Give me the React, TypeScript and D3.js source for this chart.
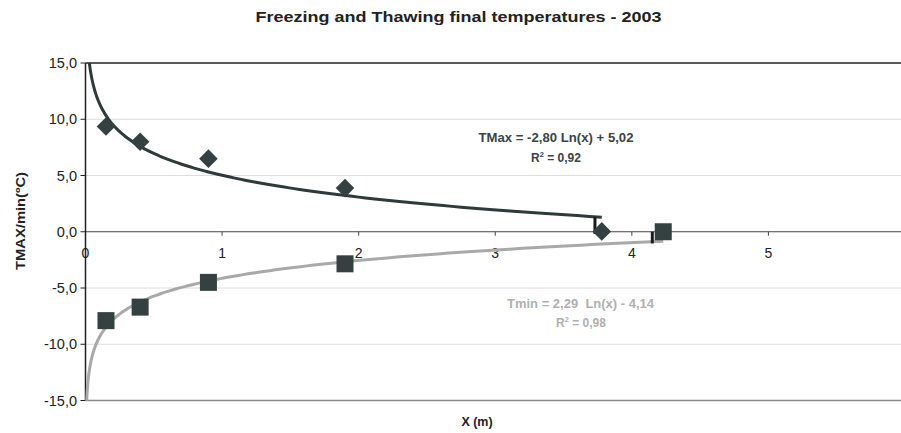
import React from "react";
import * as d3 from "d3";

const title = "Freezing and Thawing final temperatures - 2003";
const yTicks = [15, 10, 5, 0, -5, -10, -15];
const xTicks = [0, 1, 2, 3, 4, 5];
const gridValues = [10, 5, -5, -10];

const tmaxX = [0.15, 0.4, 0.9, 1.9, 3.78];
const tmaxY = [9.35, 8.0, 6.5, 3.88, 0.03];
const tminX = [0.15, 0.4, 0.9, 1.9, 4.23];
const tminY = [-7.9, -6.7, -4.5, -2.85, 0.0];

// logarithmic trend coefficients: y = a ln(x) + b
const tmaxFit = { a: -2.8, b: 5.02, xEnd: 3.78, bar: 3.73 };
const tminFit = { a: 2.29, b: -4.14, xEnd: 4.23, bar: 4.15 };

const tmaxLabel = ["TMax = -2,80 Ln(x) + 5,02", "0,92"];
const tminLabel = ["Tmin = 2,29  Ln(x) - 4,14", "0,98"];

const W = 901;
const H = 433;
const m = { left: 85.5, top: 63, right: 905, bottom: 400.5 };
const FONT = "'Liberation Sans', Arial, sans-serif";

export default function App() {
  const x = d3.scaleLinear().domain([0, 6]).range([m.left, m.right]);
  const y = d3.scaleLinear().domain([-15, 15]).range([m.bottom, m.top]);

  const trend = (fit: { a: number; b: number; xEnd: number }) => {
    const x0 = Math.exp((fit.a < 0 ? 15 - fit.b : -15 - fit.b) / fit.a);
    const pts = d3
      .range(0, 201)
      .map((i) => Math.exp(Math.log(x0) + ((Math.log(fit.xEnd) - Math.log(x0)) * i) / 200));
    return d3
      .line<number>()
      .x((v) => x(v))
      .y((v) => y(fit.a * Math.log(v) + fit.b))(pts) as string;
  };
  const fitAt = (fit: { a: number; b: number }, v: number) => fit.a * Math.log(v) + fit.b;

  const markColor = "#354141";
  const diamond = d3.symbol().type(d3.symbolDiamond2).size(220)() as string;
  const fmt = (t: number) => d3.format(".1f")(t).replace(".", ",").replace("−", "-");

  return (
    <div style={{ position: "absolute", left: 0, top: 0 }}>
      <svg width={W} height={H} style={{ display: "block", background: "#fff" }} fontFamily={FONT}>
        <text x={458.5} y={21.5} textAnchor="middle" fontSize={15} fontWeight="bold" fill="#222" textLength={406} lengthAdjust="spacingAndGlyphs">
          {title}
        </text>

        {gridValues.map((g) => (
          <line key={g} x1={m.left} x2={W} y1={y(g)} y2={y(g)} stroke="#b8b8b8" strokeWidth={1} strokeDasharray="1,1" />
        ))}
        <line x1={m.left} x2={W} y1={y(15)} y2={y(15)} stroke="#222" strokeWidth={1.5} />
        <line x1={m.left} x2={W} y1={y(-15)} y2={y(-15)} stroke="#888" strokeWidth={1.5} />

        {/* x axis at 0 */}
        <line x1={m.left} x2={W} y1={y(0)} y2={y(0)} stroke="#444" strokeWidth={1.2} />
        {xTicks.slice(1).map((t) => (
          <line key={t} x1={x(t)} x2={x(t)} y1={y(0)} y2={y(0) + 4} stroke="#444" />
        ))}
        {xTicks.map((t) => (
          <text key={t} x={x(t)} y={y(0) + 26} textAnchor="middle" fontSize={14} fill="#222">
            {t}
          </text>
        ))}

        {/* y axis */}
        <line x1={m.left} x2={m.left} y1={m.top} y2={m.bottom} stroke="#222" strokeWidth={1.5} />
        {yTicks.map((t) => (
          <g key={t}>
            <line x1={m.left - 5} x2={m.left} y1={y(t)} y2={y(t)} stroke="#222" />
            <text x={77} y={y(t) + 5} textAnchor="end" fontSize={14.5} fill="#222">
              {fmt(t)}
            </text>
          </g>
        ))}

        <text
          transform={`translate(25,221) rotate(-90)`}
          textAnchor="middle"
          fontSize={13}
          fontWeight="bold"
          fill="#222"
          textLength={98}
          lengthAdjust="spacingAndGlyphs"
        >
          TMAX/min(ºC)
        </text>
        <text x={477} y={426} textAnchor="middle" fontSize={12.5} fontWeight="bold" fill="#222">
          X (m)
        </text>

        {/* trend lines */}
        <path d={trend(tminFit)} fill="none" stroke="#a9a9a9" strokeWidth={3} />
        <path d={trend(tmaxFit)} fill="none" stroke="#2f3a3a" strokeWidth={3} />
        <line
          x1={x(tmaxFit.bar)}
          x2={x(tmaxFit.bar)}
          y1={y(fitAt(tmaxFit, tmaxFit.xEnd))}
          y2={y(-0.2)}
          stroke="#1a1a1a"
          strokeWidth={3}
        />
        <line
          x1={x(tminFit.bar)}
          x2={x(tminFit.bar)}
          y1={y(0)}
          y2={y(fitAt(tminFit, tminFit.xEnd) - 0.2)}
          stroke="#1a1a1a"
          strokeWidth={3}
        />

        {/* markers */}
        {tmaxX.map((v, i) => (
          <path key={i} d={diamond} transform={`translate(${x(v)},${y(tmaxY[i])})`} fill={markColor} />
        ))}
        {tminX.map((v, i) => (
          <rect key={i} x={x(v) - 8.5} y={y(tminY[i]) - 8.5} width={17} height={17} fill={markColor} />
        ))}

        {/* equation labels */}
        <text x={556} y={142} textAnchor="middle" fontSize={12} fontWeight="bold" fill="#3a4444" textLength={155} lengthAdjust="spacingAndGlyphs">
          {tmaxLabel[0]}
        </text>
        <text x={556} y={161.5} textAnchor="middle" fontSize={12} fontWeight="bold" fill="#3a4444">
          R<tspan dy={-5} fontSize={7.5}>2</tspan>
          <tspan dy={5}> = {tmaxLabel[1]}</tspan>
        </text>
        <text x={580.5} y={307.5} textAnchor="middle" fontSize={12} fontWeight="bold" fill="#b0b0b0" xmlSpace="preserve" textLength={147} lengthAdjust="spacingAndGlyphs">
          {tminLabel[0]}
        </text>
        <text x={581} y={327} textAnchor="middle" fontSize={12} fontWeight="bold" fill="#b0b0b0">
          R<tspan dy={-5} fontSize={7.5}>2</tspan>
          <tspan dy={5}> = {tminLabel[1]}</tspan>
        </text>
      </svg>
    </div>
  );
}
